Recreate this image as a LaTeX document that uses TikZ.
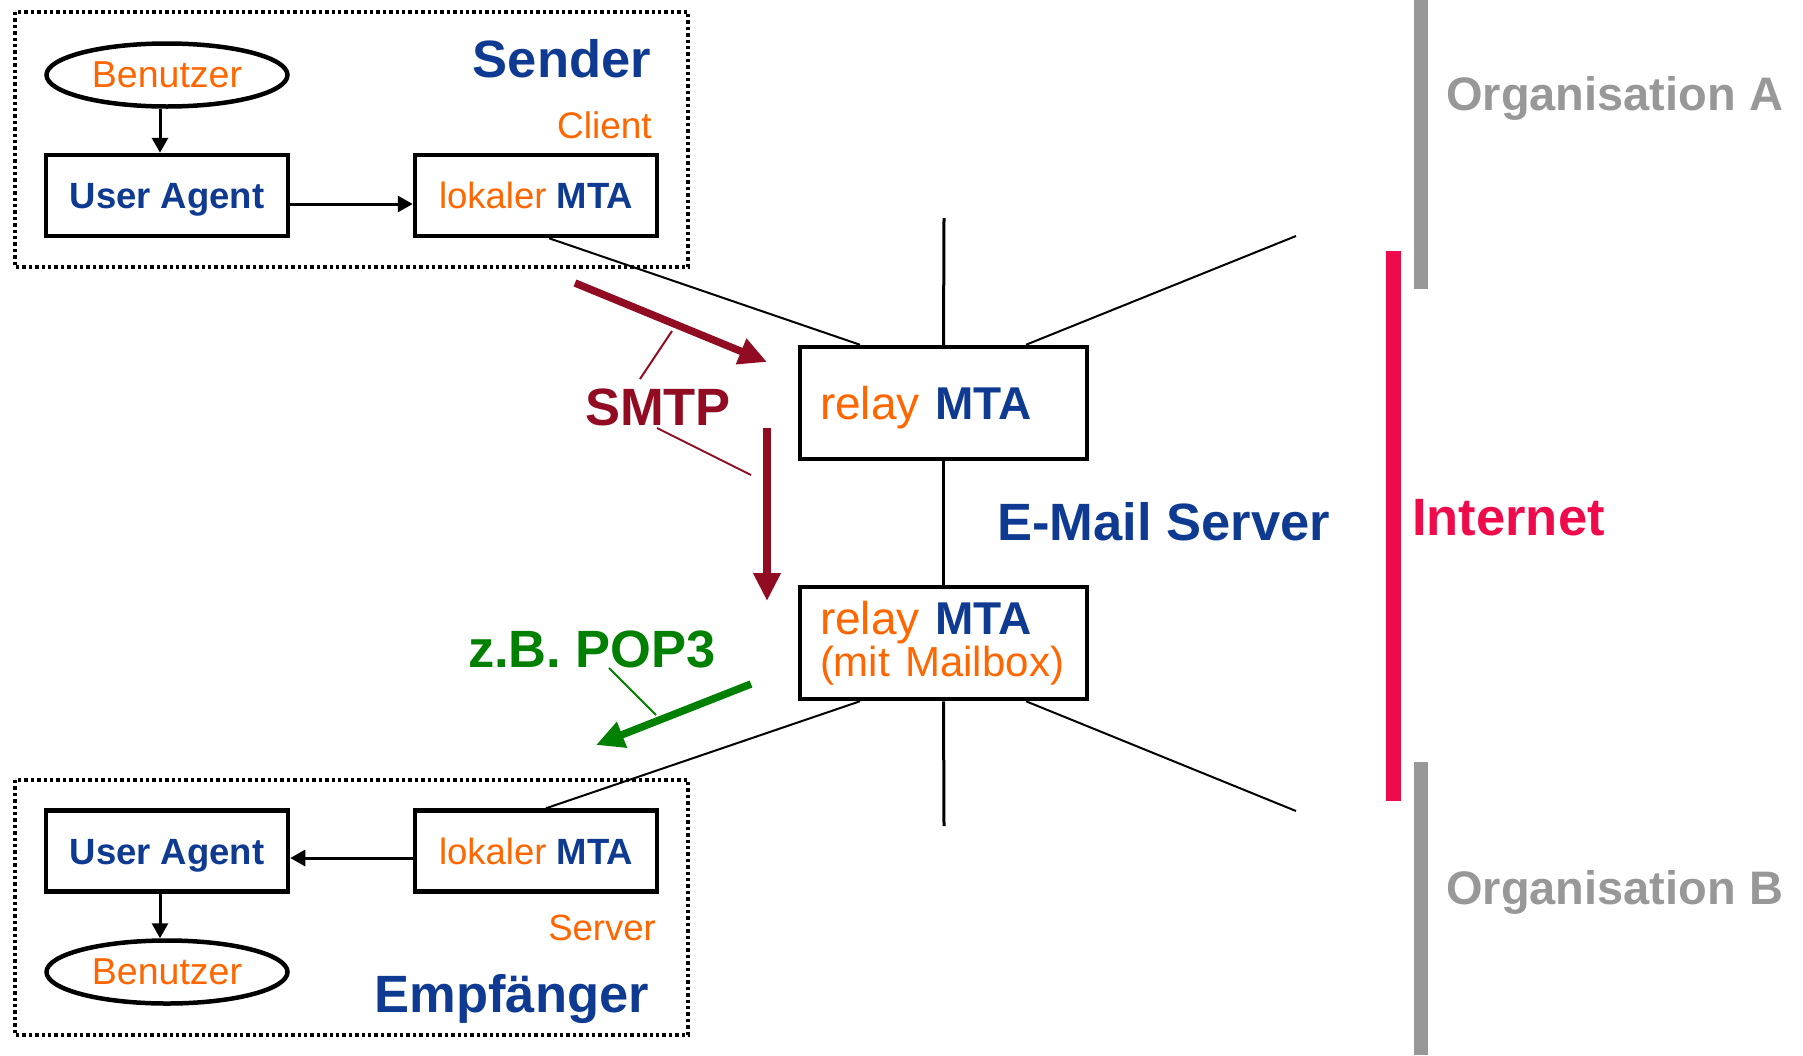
\documentclass[tikz,border=0pt]{standalone}
\usepackage{fontspec}
\setmainfont{Liberation Sans}
\usetikzlibrary{shapes.geometric,arrows.meta}
\definecolor{dblue}{RGB}{14,58,145}
\definecolor{orng}{RGB}{255,102,0}
\definecolor{smtpred}{RGB}{145,12,35}
\definecolor{popgreen}{RGB}{0,128,0}
\definecolor{orggray}{RGB}{152,152,152}
\definecolor{netred}{RGB}{238,10,75}
\newcommand{\fs}[1]{\fontsize{#1}{#1}\selectfont}
\newcommand{\mta}{\textcolor{dblue}{\bfseries MTA}}

\begin{document}
\begin{tikzpicture}[x=1pt,y=-1pt]
\tikzstyle{box}=[draw,line width=4.5pt,minimum width=242pt,minimum height=81pt,inner sep=0pt,text height=26pt,text depth=0pt,font=\fs{36.5}]
\tikzstyle{relay}=[draw,line width=4.5pt,minimum width=287pt,minimum height=112pt,inner xsep=20pt,inner ysep=0pt,text width=247pt,align=left,font=\fs{46}]
\tikzstyle{user}=[ellipse,draw,line width=4.5pt,minimum width=241pt,minimum height=63pt,inner sep=0pt,font=\fs{37.5},text=orng]
\tikzstyle{grp}=[dash pattern=on 3.4pt off 3pt,line width=4pt]
\tikzstyle{lnk}=[-{Triangle[length=15pt,width=16pt]},line width=3pt]
\tikzstyle{wire}=[line width=2pt]
\tikzstyle{proto}=[line width=7.5pt,-{Triangle[length=28pt,width=26pt]}]
\tikzstyle{lbl}=[inner sep=0pt,font=\bfseries\fs{52.5}]
\useasboundingbox (0,0) rectangle (1803,1055);

% sender side
\draw[grp] (15,12) rectangle (688,267);
\node[user] (benA) at (167,75) {Benutzer};
\node[box] (uaA) at (167,195.5) {\textcolor{dblue}{\bfseries User Agent}};
\node[box] (lmA) at (536,195.5) {\textcolor{orng}{lokaler} \mta};
\node[lbl,text=dblue,anchor=base east] (sender) at (651,77) {Sender};
\node[inner sep=0pt,font=\fs{37},text=orng,anchor=base east] (client) at (652,138) {Client};
\draw[lnk] ([xshift=-7pt]benA.south) -- ([xshift=-7pt]uaA.north);
\draw[lnk] ([yshift=-8.5pt]uaA.east) -- ([yshift=-8.5pt]lmA.west);

% receiver side
\draw[grp] (15,780) rectangle (688,1035);
\node[box] (uaB) at (167,851) {\textcolor{dblue}{\bfseries User Agent}};
\node[box] (lmB) at (536,851) {\textcolor{orng}{lokaler} \mta};
\node[user] (benB) at (167,972) {Benutzer};
\node[inner sep=0pt,font=\fs{36.5},text=orng,anchor=base east] (server) at (656,940) {Server};
\node[lbl,text=dblue,anchor=base east] (empf) at (649,1012) {Empfänger};
\draw[lnk] ([yshift=-7pt]lmB.west) -- ([yshift=-7pt]uaB.east);
\draw[lnk] ([xshift=-7pt]uaB.south) -- ([xshift=-7pt]benB.north);

% e-mail server
\node[relay,text height=33pt,text depth=0pt] (rel1) at (943.5,403) {\textcolor{orng}{relay} \mta};
\node[relay] (rel2) at (943.5,643) {\textcolor{orng}{relay} \mta\\[-4pt]
  {\fs{42}\textcolor{orng}{(mit Mailbox)}}};
\node[lbl,text=dblue,anchor=base west] (mailsrv) at (997,540) {E-Mail Server};
\coordinate (vtop) at (944,218);
\coordinate (vbot) at (944,826);
\coordinate (ne) at (1296,236);
\coordinate (se) at (1296,811);
\draw[line width=3pt] (vtop) -- (rel1.north);
\draw[line width=3pt] (rel1.south) -- (rel2.north);
\draw[line width=3pt] (rel2.south) -- (vbot);
\draw[wire] ([xshift=13pt]lmA.south) -- ([xshift=-83.5pt]rel1.north);
\draw[wire] ([xshift=82.5pt]rel1.north) -- (ne);
\draw[wire] ([xshift=-83.5pt]rel2.south) -- ([xshift=10pt]lmB.north);
\draw[wire] ([xshift=82.5pt]rel2.south) -- (se);

% protocols
\coordinate (s1a) at (575,283);
\coordinate (s1b) at (767,362);
\coordinate (s2a) at (767,428);
\coordinate (s2b) at (767,601);
\draw[proto,smtpred] (s1a) -- (s1b);
\draw[proto,smtpred] (s2a) -- (s2b);
\node[lbl,text=smtpred,anchor=base] (smtp) at (658,425) {SMTP};
\coordinate (t1a) at (672,331);
\coordinate (t1b) at (640,379);
\coordinate (t2a) at (657,428);
\coordinate (t2b) at (751,475);
\draw[wire,smtpred] (t1a) -- (t1b);
\draw[wire,smtpred] (t2a) -- (t2b);
\coordinate (p1a) at (751,684);
\coordinate (p1b) at (596,745);
\draw[proto,popgreen] (p1a) -- (p1b);
\node[lbl,text=popgreen,anchor=base] (pop) at (592,667) {z.B. POP3};
\coordinate (q1a) at (609,668);
\coordinate (q1b) at (656,715);
\draw[wire,popgreen] (q1a) -- (q1b);

% organisations and internet
\fill[orggray] (1414,0) rectangle (1428,289);
\fill[orggray] (1414,762) rectangle (1428,1055);
\fill[netred] (1386,251) rectangle (1401,801);
\node[lbl,text=orggray,font=\bfseries\fs{47},anchor=base west] (orgA) at (1446,110) {Organisation A};
\node[lbl,text=orggray,font=\bfseries\fs{47},anchor=base west] (orgB) at (1446,904) {Organisation B};
\node[lbl,text=netred,anchor=base west] (inet) at (1412,535) {Internet};
\end{tikzpicture}
\end{document}
